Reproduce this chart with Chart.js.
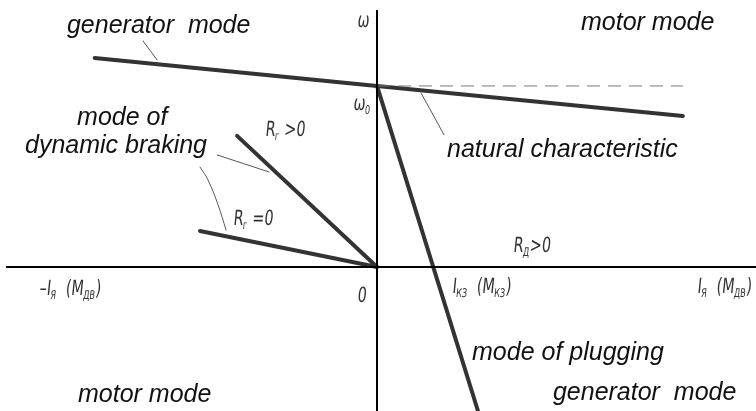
<!DOCTYPE html>
<html>
<head>
<meta charset="utf-8">
<script src="https://cdn.jsdelivr.net/npm/chart.js@4.4.0/dist/chart.umd.min.js"></script>
<style>
  html, body { margin: 0; padding: 0; background: #fff; }
  #wrap { width: 756px; height: 411px; }
</style>
</head>
<body>
<div id="wrap"><canvas id="grafico" width="756" height="411"></canvas></div>
<script>
// --- dados (I em unidades arbitrarias, w com w0 = 100) ---
const natural = [[-156, 115.5], [0, 100], [169, 83.4]];
const idealLinha = [[0, 100], [169, 100]];
const frenagemRg = [[-77.3, 72.4], [0, 0]];
const frenagemR0 = [[-97.8, 19.9], [0, 0]];
const contraCorrente = [[0, 100], [55.8, -79.6]];
const eixoX = [[-205, 0], [209.4, 0]];
const eixoY = [[0, -79.6], [0, 142]];

// linhas finas de chamada
const chamadaGerador = [[-129.3, 124.9], [-121.5, 114.4]];
const chamadaFren1 = [[-88.4, 61.9], [-59.7, 52.5]];
const chamadaFren2 = [[-97.8, 55.2], [-93.4, 48.1], [-87.8, 34.3], [-83.4, 20.4]];
const chamadaNatural = [[24.3, 96.1], [30.4, 85.1], [37, 73]];

// textos grandes [texto, x, y]
const textos = [
    ['generator  mode', -171.3, 129.3],
    ['motor mode', 112.7, 130.9],
    ['mode of', -165.7, 78.5],
    ['dynamic braking', -194.5, 63],
    ['natural characteristic', 38.7, 60.8],
    ['mode of plugging', 52.5, -51.4],
    ['generator  mode', 97.2, -73.5],
    ['motor mode', -165.2, -74.6]
];

// rotulos pequenos (partes: [texto, subscrito?])
const rotulos = [
    [[['ω', 0]], -11, 132.6],
    [[['ω', 0], ['0', 1]], -13.3, 86.7],
    [[['R', 0], ['г', 1], [' >0', 0]], -61.9, 72.4],
    [[['R', 0], ['г', 1], [' =0', 0]], -79.6, 23.2],
    [[['R', 0], ['Д', 1], ['>0', 0]], 75.1, 8.3],
    [[['–I', 0], ['Я', 1], ['  (M', 0], ['ДВ', 1], [')', 0]], -186.7, -15.5],
    [[['0', 0]], -11, -19.3],
    [[['I', 0], ['КЗ', 1], ['  (M', 0], ['КЗ', 1], [')', 0]], 41.4, -14.4],
    [[['I', 0], ['Я', 1], ['  (M', 0], ['ДВ', 1], [')', 0]], 176.8, -14.4]
];

const pts = arr => arr.map(p => ({ x: p[0], y: p[1] }));

function linha(dados, cor, largura, extra) {
    return Object.assign({
        data: pts(dados),
        showLine: true,
        borderColor: cor,
        borderWidth: largura,
        pointRadius: 0,
        fill: false,
        borderCapStyle: 'round'
    }, extra || {});
}

const pluginTextos = {
    id: 'textos',
    afterDatasetsDraw(chart) {
        const c = chart.ctx;
        const sx = chart.scales.x, sy = chart.scales.y;
        c.save();
        c.textBaseline = 'alphabetic';
        c.textAlign = 'left';
        c.fillStyle = '#111';
        c.font = 'italic 25px "Liberation Sans", Arial, sans-serif';
        textos.forEach(t => {
            c.fillText(t[0], sx.getPixelForValue(t[1]), sy.getPixelForValue(t[2]));
        });

        // fonte estreita de desenho tecnico
        c.fillStyle = '#333';
        rotulos.forEach(r => {
            const px = sx.getPixelForValue(r[1]);
            const py = sy.getPixelForValue(r[2]);
            c.save();
            c.translate(px, py);
            c.scale(0.68, 1);
            c.transform(1, 0, -0.15, 1, 0, 0);
            let x = 0;
            r[0].forEach(parte => {
                const sub = parte[1] === 1;
                c.font = (sub ? '12px' : '21px') + ' "DejaVu Sans", sans-serif';
                c.fillText(parte[0], x, sub ? 4 : 0);
                x += c.measureText(parte[0]).width;
            });
            c.restore();
        });
        c.restore();
    }
};

new Chart(document.getElementById('grafico'), {
    type: 'scatter',
    data: {
        datasets: [
            linha(eixoX, '#000', 2, { borderCapStyle: 'butt' }),
            linha(eixoY, '#000', 2, { borderCapStyle: 'butt' }),
            linha(idealLinha, '#777', 1, { borderDash: [13, 8], borderCapStyle: 'butt' }),
            linha(natural, '#333', 4),
            linha(frenagemRg, '#333', 4),
            linha(frenagemR0, '#333', 4),
            linha(contraCorrente, '#333', 4),
            linha(chamadaGerador, '#555', 1),
            linha(chamadaFren1, '#555', 1),
            linha(chamadaFren2, '#555', 1, { tension: 0.4 }),
            linha(chamadaNatural, '#555', 1, { tension: 0.4 })
        ]
    },
    options: {
        responsive: false,
        animation: false,
        layout: { padding: 0 },
        plugins: { legend: { display: false }, tooltip: { enabled: false } },
        scales: {
            x: { type: 'linear', min: -208.3, max: 209.4, display: false },
            y: { type: 'linear', min: -79.6, max: 147.5, display: false }
        }
    },
    plugins: [pluginTextos]
});
</script>
</body>
</html>
